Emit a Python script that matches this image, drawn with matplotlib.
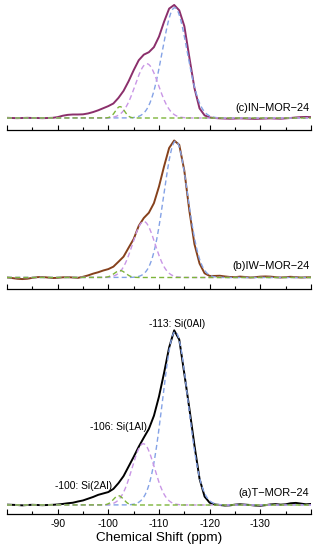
import numpy as np
import matplotlib
matplotlib.use("Agg")
import matplotlib.pyplot as plt
from matplotlib.ticker import FixedLocator

plt.rcParams['font.family'] = ['Liberation Sans', 'DejaVu Sans']
plt.rcParams['axes.unicode_minus'] = False

# ---- data -------------------------------------------------------------
ppm = np.arange(-80, -141, -1)          # sampling grid of the spectra

exp_a = [0.2, 0.1, 0.0, -0.2, 0.0, 0.1, 0.0, -0.1, 0.0, 0.1,
         0.3, 0.6, 1.0, 1.3, 2.0, 2.6, 3.6, 4.6, 5.8, 6.6,
         7.4, 9.2, 12.5, 16.5, 22.0, 27.5, 33.3, 38.5, 43.5, 51.0,
         62.0, 75.5, 90.0, 99.8, 94.5, 75.0, 55.0, 34.0, 15.0, 4.8,
         1.3, 0.3, 0.0, -0.3, -0.2, 0.2, 0.4, 0.2, 0.0, -0.3,
         -0.4, -0.1, 0.3, 0.5, 0.2, 0.4, 1.0, 1.2, 0.8, 0.4, 0.6]

exp_b = [0.0, -0.3, -0.7, -0.9, -0.7, -0.2, 0.2, 0.3, 0.0, -0.3,
         -0.2, 0.1, 0.2, 0.0, -0.2, 0.4, 1.2, 2.2, 3.0, 4.0,
         4.8, 6.2, 9.0, 11.9, 17.0, 22.0, 29.5, 34.0, 37.0, 42.5,
         52.0, 63.5, 74.0, 78.3, 75.8, 61.0, 38.0, 19.0, 8.0, 2.4,
         0.9, 0.9, 1.0, 0.6, 0.3, 0.2, 0.5, 0.3, 0.0, 0.2,
         0.5, 0.6, 0.5, 0.2, 0.0, 0.2, 0.4, 0.2, 0.0, 0.1, 0.2]

exp_c = [0.1, 0.0, -0.1, 0.0, 0.1, 0.0, 0.0, -0.1, 0.0, 0.1,
         0.5, 1.3, 1.8, 2.0, 2.0, 2.1, 2.6, 3.4, 4.4, 5.6,
         6.8, 8.3, 11.5, 15.5, 21.0, 27.3, 33.0, 36.2, 37.6, 40.5,
         46.5, 55.0, 62.5, 64.6, 61.5, 52.5, 34.5, 17.0, 5.5, 1.5,
         0.3, 0.0, -0.2, -0.3, -0.4, -0.3, -0.2, -0.3, -0.4, -0.5,
         -0.4, -0.3, -0.2, -0.3, -0.4, -0.2, 0.0, 0.3, 0.5, 0.6, 0.5]

# deconvolution components: Si(0Al), Si(1Al), Si(2Al)
centers_a = [-113.2, -106.9, -102.0]
heights_a = [99.0, 35.0, 5.3]
widths_a = [2.5, 2.2, 1.0]

centers_b = [-113.3, -107.0, -102.3]
heights_b = [78.0, 32.0, 4.0]
widths_b = [2.35, 2.2, 1.1]

centers_c = [-113.1, -107.6, -102.3]
heights_c = [63.0, 31.0, 6.5]
widths_c = [2.45, 2.3, 0.9]

labels = ['(a)T\u2212MOR\u221224', '(b)IW\u2212MOR\u221224', '(c)IN\u2212MOR\u221224']
peak_texts = ['-113: Si(0Al)', '-106: Si(1Al)', '-100: Si(2Al)']
peak_text_pos = [(-113.5, 103.4), (-101.97, 44.7), (-95.2, 11.0)]
tick_vals = [-80, -90, -100, -110, -120, -130, -140]
tick_labels = ['', '-90', '-100', '-110', '-120', '-130', '']

# ---- style ------------------------------------------------------------
W, H = 318, 550
PX_PER_UNIT = 1.75
comp_colors = ['#84a2e6', '#c996e6', '#7db53a']
exp_colors = {'a': '#000000', 'b': '#86411c', 'c': '#8b2f6b'}

fig = plt.figure(figsize=(W / 100, H / 100), dpi=100)

xfine = np.linspace(-80, -140, 1201)


def panel(line_px, base_px, top_px, exp, cs, hs, ws, color, label, label_dy):
    ax = fig.add_axes([7 / W, (H - line_px) / H, 304 / W, (line_px - top_px) / H])
    ax.set_xlim(-80, -140)
    ax.set_ylim(-(line_px - base_px) / PX_PER_UNIT, (base_px - top_px) / PX_PER_UNIT)
    ax.plot(ppm, exp, color=color, lw=1.4, solid_joinstyle='round', zorder=2)
    for c, h, w, col in zip(cs, hs, ws, comp_colors):
        y = h * np.exp(-(xfine - c) ** 2 / (2 * w ** 2))
        ax.plot(xfine, y, color=col, lw=1.0, linestyle=(0, (3.6, 2.3)), zorder=3)
    for s in ['left', 'right', 'top']:
        ax.spines[s].set_visible(False)
    ax.spines['bottom'].set_linewidth(0.9)
    ax.set_yticks([])
    ax.xaxis.set_major_locator(FixedLocator(tick_vals))
    ax.xaxis.set_minor_locator(FixedLocator([-85, -95, -105, -115, -125, -135]))
    ax.tick_params(axis='x', which='major', direction='in', length=3.4, width=0.8)
    ax.tick_params(axis='x', which='minor', direction='in', length=2.0, width=0.8)
    ax.set_xticklabels([])
    ax.text(-139.7, label_dy, label, ha='right', va='center', fontsize=7.9)
    ax.patch.set_alpha(0)
    return ax


ax_c = panel(130, 118, 0, exp_c, centers_c, heights_c, widths_c,
             exp_colors['c'], labels[2], 5.7)
ax_b = panel(289, 277.5, 130, exp_b, centers_b, heights_b, widths_b,
             exp_colors['b'], labels[1], 6.7)
ax_a = panel(514, 505, 289, exp_a, centers_a, heights_a, widths_a,
             exp_colors['a'], labels[0], 7.0)

ax_a.set_xticklabels(tick_labels, fontsize=7.5)
ax_a.set_xlabel('Chemical Shift (ppm)', fontsize=9.7, labelpad=2)
for txt, (x, y) in zip(peak_texts, peak_text_pos):
    ax_a.text(x, y, txt, ha='center', va='center', fontsize=7.4)

fig.savefig('out.png', dpi=100)
